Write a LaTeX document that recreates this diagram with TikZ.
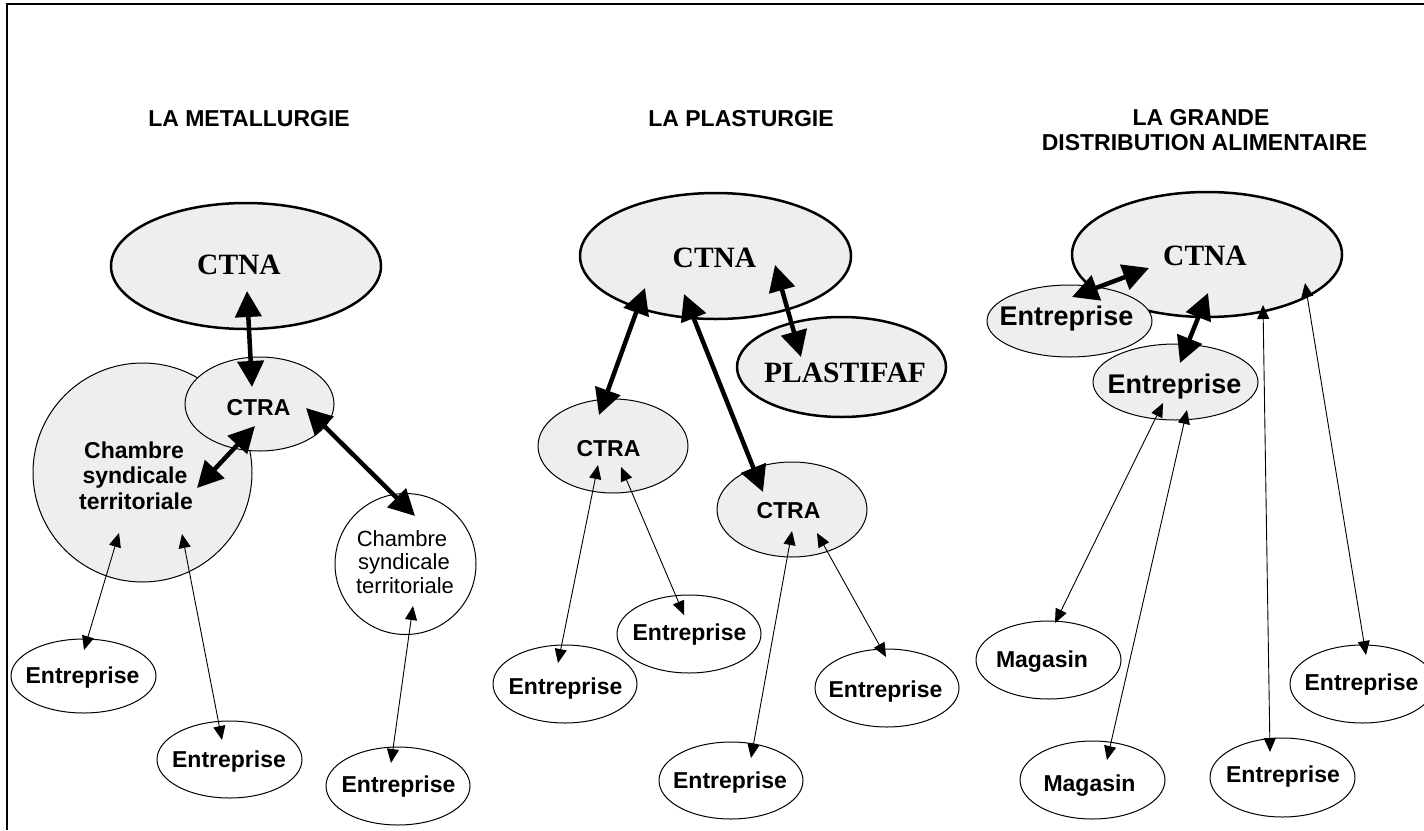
\documentclass[tikz,border=0pt]{standalone}
\usepackage{fontspec}
\setmainfont{Liberation Sans}
\newfontfamily\serifb{Liberation Serif}
\usetikzlibrary{shapes.geometric,arrows.meta}
\definecolor{gfill}{RGB}{238,238,238}
\begin{document}
\begin{tikzpicture}[x=1pt,y=-1pt,
  ell/.style={draw,ellipse,inner sep=0pt,line width=1pt,fill=white},
  gell/.style={ell,fill=gfill},
  thickell/.style={gell,line width=2.5pt},
  circ/.style={draw,circle,inner sep=0pt,line width=1pt},
  lbl/.style={anchor=base,inner sep=0pt,font=\fontsize{23}{26}\selectfont\bfseries},
  lblbig/.style={anchor=base,inner sep=0pt,font=\fontsize{27}{30}\selectfont\bfseries},
  lblreg/.style={anchor=base,inner sep=0pt,font=\fontsize{22}{25}\selectfont},
  lblserif/.style={anchor=base,inner sep=0pt,font=\fontsize{29.5}{32}\selectfont\serifb\bfseries},
  tarr/.style={{Triangle[length=14pt,width=12pt]}-{Triangle[length=14pt,width=12pt]},line width=0.9pt},
  karr/.style={{Triangle[length=26pt,width=26pt]}-{Triangle[length=26pt,width=26pt]},line width=4.5pt}
]
\useasboundingbox (0,0) rectangle (1424,830);
% frame
\coordinate (fr1) at (1424,4);
\coordinate (fr2) at (7,4);
\coordinate (fr3) at (7,830);
\draw[line width=1.5pt] (fr1) -- (fr2) -- (fr3);

% titles
\node[lbl] (t1) at (249,126) {LA METALLURGIE};
\node[lbl] (t2) at (741,126) {LA PLASTURGIE};
\node[lbl] (t3a) at (1201,125) {LA GRANDE};
\node[lbl] (t3b) at (1204.5,150) {DISTRIBUTION ALIMENTAIRE};

% ===== Section 1 =====
\node[thickell,minimum width=270pt,minimum height=126pt] (ctna1) at (246,266) {};
\node[circ,fill=gfill,minimum size=219pt] (chs1) at (142.5,472.5) {};
\node[gell,minimum width=149pt,minimum height=94pt] (ctra1) at (259.5,404) {};
\node[circ,fill=white,minimum size=141pt] (chs2) at (405.5,564) {};
\node[ell,minimum width=145pt,minimum height=74pt] (e1) at (83.5,676) {};
\node[ell,minimum width=145pt,minimum height=77pt] (e2) at (229.5,759.5) {};
\node[ell,minimum width=144pt,minimum height=78pt] (e3) at (398,786) {};

\node[lblserif] (ctna1t) at (239,274) {CTNA};
\node[lbl] (ctra1t) at (258.5,415) {CTRA};
\node[lbl] (chs1a) at (134,458) {Chambre};
\node[lbl] (chs1b) at (135,483.5) {syndicale};
\node[lbl] (chs1c) at (136,509) {territoriale};
\node[lblreg] (chs2a) at (402,546) {Chambre};
\node[lblreg] (chs2b) at (404,569.5) {syndicale};
\node[lblreg] (chs2c) at (405,593) {territoriale};
\node[lbl] (e1t) at (82.5,683) {Entreprise};
\node[lbl] (e2t) at (229,767) {Entreprise};
\node[lbl] (e3t) at (398.5,792) {Entreprise};

% ===== Section 2 =====
\node[thickell,minimum width=271pt,minimum height=126pt] (ctna2) at (715.5,256) {};
\node[thickell,minimum width=209pt,minimum height=100pt] (plast) at (841.5,367) {};
\node[gell,minimum width=150pt,minimum height=94pt] (ctra2a) at (613,446) {};
\node[gell,minimum width=150pt,minimum height=95pt] (ctra2b) at (792,509.5) {};
\node[ell,minimum width=144pt,minimum height=78pt] (e4) at (565,684) {};
\node[ell,minimum width=144pt,minimum height=78pt] (e5) at (689,634) {};
\node[ell,minimum width=144pt,minimum height=77pt] (e6) at (731,780.5) {};
\node[ell,minimum width=144pt,minimum height=78pt] (e7) at (887,688) {};

\node[lblserif] (ctna2t) at (714.5,267) {CTNA};
\node[lblserif] (plastt) at (845,382) {PLASTIFAF};
\node[lbl] (ctra2at) at (608.5,456) {CTRA};
\node[lbl] (ctra2bt) at (788.5,518) {CTRA};
\node[lbl] (e4t) at (565.5,694) {Entreprise};
\node[lbl] (e5t) at (689.5,640) {Entreprise};
\node[lbl] (e6t) at (730,788) {Entreprise};
\node[lbl] (e7t) at (885.5,697) {Entreprise};

% ===== Section 3 =====
\node[thickell,minimum width=270pt,minimum height=125pt] (ctna3) at (1207,254.5) {};
\node[gell,minimum width=165pt,minimum height=72pt] (eul) at (1069.5,321) {};
\node[gell,minimum width=165pt,minimum height=76pt] (emid) at (1175.5,382) {};
\node[ell,minimum width=145pt,minimum height=78pt] (mag1) at (1048.5,660) {};
\node[ell,minimum width=145pt,minimum height=78pt] (mag2) at (1092.5,780) {};
\node[ell,minimum width=145pt,minimum height=79pt] (ebot) at (1282.5,777.5) {};
\node[ell,minimum width=145pt,minimum height=78pt] (eright) at (1362.5,684) {};

\node[lblserif] (ctna3t) at (1205,265) {CTNA};
\node[lblbig] (eult) at (1066.5,325) {Entreprise};
\node[lblbig] (emidt) at (1174.5,393) {Entreprise};
\node[lbl] (mag1t) at (1042,667) {Magasin};
\node[lbl] (mag2t) at (1089.5,791) {Magasin};
\node[lbl] (ebott) at (1283,782) {Entreprise};
\node[lbl] (erightt) at (1361.5,690) {Entreprise};

% ===== arrow end points =====
\coordinate (k1a) at (247,291);   \coordinate (k1b) at (252,387);
\coordinate (k2a) at (255,426);   \coordinate (k2b) at (197,488);
\coordinate (k3a) at (306,408);   \coordinate (k3b) at (415,516);
\coordinate (t1a) at (119,533);   \coordinate (t1b) at (84,650);
\coordinate (t2a) at (182,534);   \coordinate (t2b) at (222,740);
\coordinate (t3a) at (413,606);   \coordinate (t3b) at (391,763);

\coordinate (k4a) at (645,288);   \coordinate (k4b) at (599,415);
\coordinate (k5a) at (684,294);   \coordinate (k5b) at (763,492);
\coordinate (k6a) at (775,265);   \coordinate (k6b) at (801,357);
\coordinate (t4a) at (598,465);   \coordinate (t4b) at (558,663);
\coordinate (t5a) at (621,467);   \coordinate (t5b) at (684,615);
\coordinate (t6a) at (792,531);   \coordinate (t6b) at (751,758);
\coordinate (t7a) at (817,533);   \coordinate (t7b) at (886,657);

\coordinate (k7a) at (1149,268);  \coordinate (k7b) at (1072,297);
\coordinate (k8a) at (1208,293);  \coordinate (k8b) at (1180,363);
\coordinate (t8a) at (1163,403);  \coordinate (t8b) at (1055,623);
\coordinate (t9a) at (1187,410);  \coordinate (t9b) at (1107,760);
\coordinate (t10a) at (1263,305); \coordinate (t10b) at (1270,752);
\coordinate (t11a) at (1305,283); \coordinate (t11b) at (1366,655);

% ===== arrows =====
\draw[karr] (k1a) -- (k1b);
\draw[karr] (k2a) -- (k2b);
\draw[karr] (k3a) -- (k3b);
\draw[tarr] (t1a) -- (t1b);
\draw[tarr] (t2a) -- (t2b);
\draw[tarr] (t3a) -- (t3b);

\draw[karr] (k4a) -- (k4b);
\draw[karr] (k5a) -- (k5b);
\draw[karr] (k6a) -- (k6b);
\draw[tarr] (t4a) -- (t4b);
\draw[tarr] (t5a) -- (t5b);
\draw[tarr] (t6a) -- (t6b);
\draw[tarr] (t7a) -- (t7b);

\draw[karr] (k7a) -- (k7b);
\draw[karr] (k8a) -- (k8b);
\draw[tarr] (t8a) -- (t8b);
\draw[tarr] (t9a) -- (t9b);
\draw[tarr] (t10a) -- (t10b);
\draw[tarr] (t11a) -- (t11b);
\end{tikzpicture}
\end{document}
